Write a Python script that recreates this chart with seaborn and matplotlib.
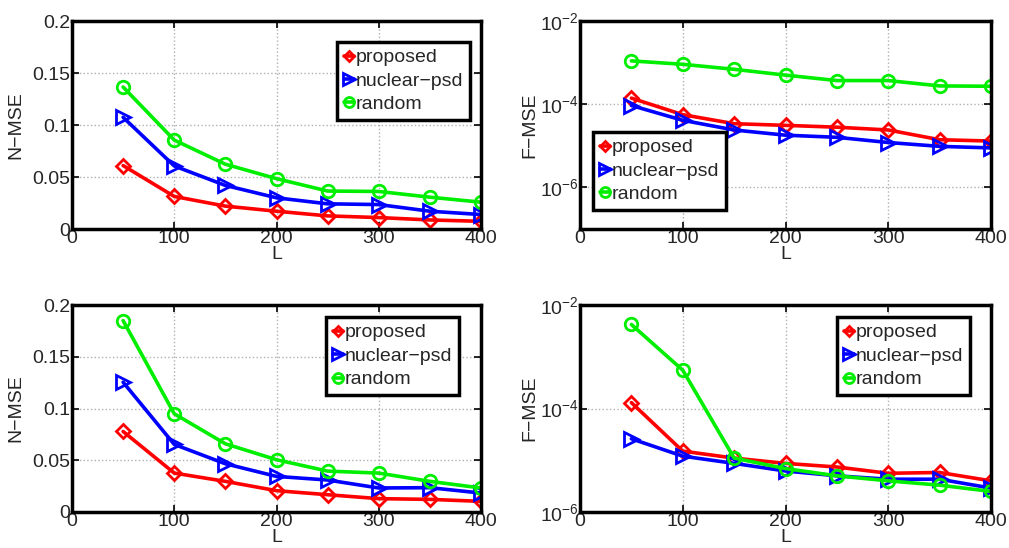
import numpy as np
import pandas as pd
import matplotlib
matplotlib.use("Agg")
import matplotlib.pyplot as plt
import seaborn as sns

L = [50, 100, 150, 200, 250, 300, 350, 400]
series_names = ["proposed", "nuclear−psd", "random"]

# top-left (N-MSE)
nmse1_proposed = [0.061, 0.0313, 0.022, 0.0171, 0.0126, 0.011, 0.0087, 0.0074]
nmse1_nuclear = [0.1074, 0.0606, 0.0419, 0.030, 0.0242, 0.0235, 0.0171, 0.0139]
nmse1_random = [0.1365, 0.0855, 0.0623, 0.0484, 0.0365, 0.0361, 0.0306, 0.0258]

# top-right (F-MSE)
fmse1_proposed = [1.4e-4, 5.6e-5, 3.4e-5, 3.1e-5, 2.8e-5, 2.4e-5, 1.4e-5, 1.3e-5]
fmse1_nuclear = [9.3e-5, 4.1e-5, 2.4e-5, 1.8e-5, 1.6e-5, 1.2e-5, 9.7e-6, 8.9e-6]
fmse1_random = [1.1e-3, 9.1e-4, 6.9e-4, 5.0e-4, 3.7e-4, 3.7e-4, 2.75e-4, 2.7e-4]

# bottom-left (N-MSE)
nmse2_proposed = [0.0778, 0.0376, 0.0296, 0.0206, 0.0167, 0.0129, 0.0122, 0.0103]
nmse2_nuclear = [0.1254, 0.0653, 0.0466, 0.0344, 0.0309, 0.0232, 0.0235, 0.0183]
nmse2_random = [0.1849, 0.0949, 0.0659, 0.0505, 0.0395, 0.0376, 0.0296, 0.0232]

# bottom-right (F-MSE)
fmse2_proposed = [1.3e-4, 1.5e-5, 1.1e-5, 8.7e-6, 7.4e-6, 5.6e-6, 5.8e-6, 4.0e-6]
fmse2_nuclear = [2.6e-5, 1.2e-5, 8.7e-6, 6.2e-6, 5.0e-6, 4.3e-6, 4.3e-6, 2.9e-6]
fmse2_random = [4.2e-3, 5.5e-4, 1.1e-5, 6.9e-6, 5.0e-6, 4.0e-6, 3.3e-6, 2.5e-6]

nmse_ticks = [0, 0.05, 0.1, 0.15, 0.2]
nmse_ticklabels = ["0", "0.05", "0.1", "0.15", "0.2"]
x_ticks = [0, 100, 200, 300, 400]

sns.set_theme(style="white")
plt.rcParams["font.family"] = ["Liberation Sans", "DejaVu Sans"]
plt.rcParams["mathtext.fontset"] = "custom"
plt.rcParams["mathtext.rm"] = "Liberation Sans"
plt.rcParams["mathtext.it"] = "Liberation Sans"
plt.rcParams["axes.unicode_minus"] = True

colors = ["#ff0000", "#0000ff", "#00ee00"]
markers = ["D", ">", "o"]
msizes = [7, 10, 9]

fig = plt.figure(figsize=(10.09, 5.48), dpi=100)
W, H = 1009, 548
def add_ax(x0, y0, x1, y1):
    return fig.add_axes([x0 / W, 1 - y1 / H, (x1 - x0) / W, (y1 - y0) / H])

axes = [add_ax(72, 21, 481, 229), add_ax(580, 21, 991, 229),
        add_ax(72, 305, 481, 512), add_ax(580, 305, 991, 512)]

panels = [
    (axes[0], [nmse1_proposed, nmse1_nuclear, nmse1_random], False, (337, 42, 464, 119)),
    (axes[1], [fmse1_proposed, fmse1_nuclear, fmse1_random], True, (593, 132, 720, 211)),
    (axes[2], [nmse2_proposed, nmse2_nuclear, nmse2_random], False, (326, 317, 453, 395)),
    (axes[3], [fmse2_proposed, fmse2_nuclear, fmse2_random], True, (837, 317, 964, 395)),
]

fs = 14
for ax, ys, logy, lbox in panels:
    for name, y, c, m, ms in zip(series_names, ys, colors, markers, msizes):
        df = pd.DataFrame({"L": L, "v": y})
        sns.lineplot(data=df, x="L", y="v", ax=ax, color=c, marker=m,
                     markersize=ms, markerfacecolor="none",
                     markeredgecolor=c, markeredgewidth=2.0, linewidth=2.6,
                     label=name, estimator=None)
    ax.set_xlim(0, 400)
    ax.set_xticks(x_ticks)
    if logy:
        ax.set_yscale("log")
        if ax is axes[1]:
            ax.set_ylim(1e-7, 1e-2)
        else:
            ax.set_ylim(1e-6, 1e-2)
        ax.set_yticks([1e-6, 1e-4, 1e-2])
        ax.yaxis.set_minor_locator(matplotlib.ticker.NullLocator())
        ax.set_ylabel("F−MSE", fontsize=fs, labelpad=1)
    else:
        ax.set_ylim(0, 0.2)
        ax.set_yticks(nmse_ticks)
        ax.set_yticklabels(nmse_ticklabels)
        ax.set_ylabel("N−MSE", fontsize=fs, labelpad=6)
    ax.set_xlabel("L", fontsize=fs, labelpad=-1)
    ax.grid(True, linestyle=":", color="#b0b0b0", linewidth=1.0)
    ax.tick_params(direction="in", length=5, width=1.2, labelsize=fs,
                   top=True, right=True, bottom=True, left=True, pad=1, color="black")
    for s in ax.spines.values():
        s.set_visible(True)
        s.set_color("black")
        s.set_linewidth(2.5)
    # legend
    x0, y0, x1, y1 = lbox
    fx0 = x0 / W
    fy1 = 1 - y0 / H
    leg = ax.legend(loc="upper left",
                    bbox_to_anchor=(fx0, fy1), bbox_transform=fig.transFigure,
                    fontsize=14, frameon=True, fancybox=False, handlelength=0.5,
                    handletextpad=0.1, borderpad=0.35, labelspacing=0.3,
                    borderaxespad=0.0, framealpha=1.0, markerscale=0.8)
    leg.get_frame().set_edgecolor("black")
    leg.get_frame().set_linewidth(2.5)

fig.savefig("out.png", dpi=100)
